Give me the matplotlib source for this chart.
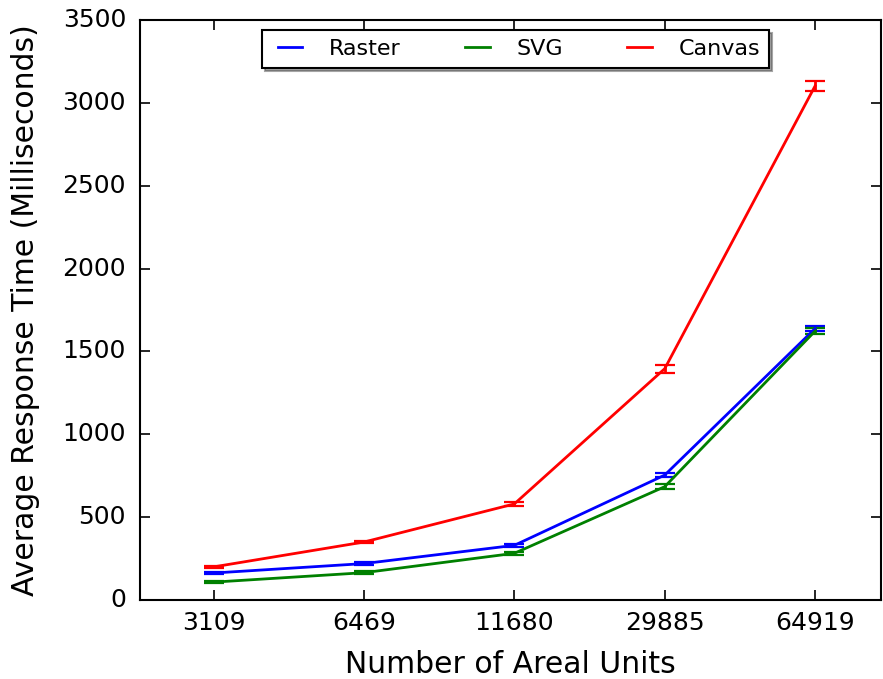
import numpy as np
import matplotlib.pyplot as plt
from matplotlib.lines import Line2D

plt.style.use('classic')

units = ['3109', '6469', '11680', '29885', '64919']
raster = [163, 220, 330, 754, 1638]
svg = [108, 165, 282, 684, 1623]
canvas = [200, 350, 580, 1396, 3102]
raster_err = [8, 8, 10, 14, 15]
svg_err = [8, 8, 10, 16, 20]
canvas_err = [8, 8, 10, 24, 32]

fig = plt.figure(figsize=(8.83, 6.79), dpi=100, facecolor='white')
ax = fig.add_axes([0.1585, 0.1163, 0.8395, 0.8542])

x = np.arange(len(units))
series = [(raster, raster_err, 'b', 'Raster'),
          (svg, svg_err, 'g', 'SVG'),
          (canvas, canvas_err, 'r', 'Canvas')]
handles = []
for vals, err, c, name in series:
    ax.errorbar(x, vals, yerr=err, color=c, lw=2, capsize=7.5, mew=1.6)
    handles.append(Line2D([], [], color=c, lw=2, label=name))

ax.set_xlim(-0.49, 4.44)
ax.set_ylim(0, 3500)
ax.set_xticks(x)
ax.set_xticklabels(units)
ax.tick_params(labelsize=18, length=7, width=1.2, pad=8)
ax.tick_params(axis='y', pad=10)
for s in ax.spines.values():
    s.set_linewidth(1.5)
ax.set_xlabel('Number of Areal Units', fontsize=21.5, labelpad=11)
ax.set_ylabel('Average Response Time (Milliseconds)', fontsize=21.5,
              labelpad=16)

leg = ax.legend(handles=handles, loc='upper center', ncol=3, fontsize=16,
                frameon=True, shadow=True, bbox_to_anchor=(0.507, 1.0),
                borderaxespad=0.45, columnspacing=2.6, handlelength=1.7,
                handletextpad=0.9)
leg.get_frame().set_linewidth(1.5)

fig.savefig('out.png', dpi=100, facecolor='white')
